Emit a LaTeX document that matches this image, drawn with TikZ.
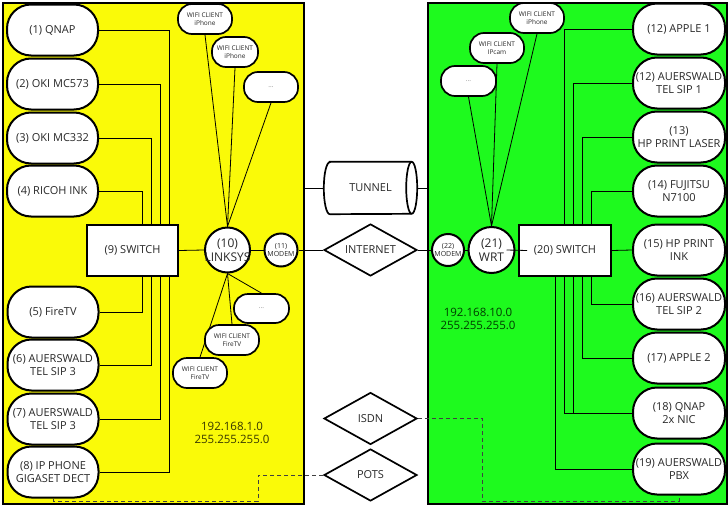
\documentclass[tikz,border=0pt]{standalone}
\usepackage{fontspec}
\setmainfont{Open Sans}
\usetikzlibrary{shapes.geometric,calc}
\definecolor{lanyellow}{RGB}{250,250,8}
\definecolor{langreen}{RGB}{30,250,30}
\definecolor{txt}{RGB}{40,40,40}
\definecolor{ipyel}{RGB}{55,55,0}
\definecolor{ipgrn}{RGB}{0,60,0}
\pgfdeclarelayer{bg}
\pgfdeclarelayer{edges}
\pgfsetlayers{bg,edges,main}
\tikzset{
  dev/.style={draw=black, line width=2pt, fill=white, rounded corners=24pt,
    minimum width=91pt, minimum height=51pt, inner sep=0pt, align=center,
    text=txt, font=\fontsize{11}{13}\selectfont},
  wifi/.style={draw=black, line width=1.7pt, fill=white, rounded corners=14pt,
    minimum width=54pt, minimum height=30pt, inner sep=0pt, align=center,
    text=txt, font=\fontsize{6.5}{8}\selectfont},
  dots/.style={wifi, text=black!50},
  swbox/.style={draw=black, line width=2pt, fill=white, minimum width=91pt,
    minimum height=51pt, inner sep=0pt, text=txt, font=\fontsize{11}{13}\selectfont},
  rcirc/.style={circle, draw=black, line width=2pt, fill=white, inner sep=0pt},
  ctext/.style={inner sep=0pt, align=center, text=txt},
  dia/.style={diamond, draw=black, line width=1.7pt, fill=white, aspect=1.8,
    minimum width=93pt, minimum height=52pt, inner sep=0pt, text=txt,
    font=\fontsize{11}{13}\selectfont},
  panel/.style={draw=black, line width=2pt, inner sep=0pt},
  conn/.style={line width=0.8pt, black},
  dashline/.style={line width=0.8pt, dash pattern=on 4pt off 3pt, black!75},
  iptext/.style={inner sep=0pt, align=center, font=\fontsize{11.5}{13}\selectfont},
}
\begin{document}
\begin{tikzpicture}[x=1pt, y=-1pt]
\useasboundingbox (0,0) rectangle (728,506);
% panels
\begin{pgfonlayer}{bg}
\node[panel, fill=lanyellow, minimum width=301pt, minimum height=501pt] (lan1) at (153,253) {};
\node[panel, fill=langreen, minimum width=299pt, minimum height=501pt] (lan2) at (577.5,253) {};
\end{pgfonlayer}

% left devices
\node[dev] (n1) at (52.5,30) {(1) QNAP};
\node[dev] (n2) at (52.5,84) {(2) OKI MC573};
\node[dev] (n3) at (52.5,138) {(3) OKI MC332};
\node[dev] (n4) at (52.5,191) {(4) RICOH INK};
\node[dev] (n5) at (53,312) {(5) FireTV};
\node[dev] (n6) at (53,365) {(6) AUERSWALD\\TEL SIP 3};
\node[dev] (n7) at (53,419) {(7) AUERSWALD\\TEL SIP 3};
\node[dev] (n8) at (53,472) {(8) IP PHONE\\GIGASET DECT};
\node[swbox] (sw9) at (132.5,250.5) {(9) SWITCH};

\node[rcirc, minimum size=45pt] (link) at (227.5,250) {};
\node[ctext, font=\fontsize{12}{14}\selectfont] (linkt) at (link) {(10)\\LINKSYS};
\node[rcirc, minimum size=33pt] (m11) at (281,250) {};
\node[ctext, font=\fontsize{7}{8.5}\selectfont] (m11t) at (m11) {(11)\\MODEM};

\node[wifi] (lw1) at (205,19) {WIFI CLIENT\\iPhone};
\node[wifi, minimum width=46pt] (lw2) at (235,52) {WIFI CLIENT\\iPhone};
\node[dots] (lw3) at (271,87) {...};
\node[dots, minimum width=55pt, minimum height=29pt] (lw4) at (261.5,308.5) {...};
\node[wifi] (lw5) at (232,340) {WIFI CLIENT\\FireTV};
\node[wifi] (lw6) at (200,373) {WIFI CLIENT\\FireTV};

\node[iptext, text=ipyel] (ip1) at (232,433) {192.168.1.0\\255.255.255.0};

% middle
\node[draw=none, minimum width=93pt, minimum height=52pt, inner sep=0pt] (tunnel) at (370.5,188) {};
\draw[line width=1.7pt, fill=white]
  ([xshift=6pt]tunnel.north west) -- ([xshift=-5.5pt]tunnel.north east)
  arc[start angle=90, end angle=-90, x radius=5.5pt, y radius=26pt]
  -- ([xshift=6pt]tunnel.south west)
  arc[start angle=270, end angle=90, x radius=6pt, y radius=26pt] -- cycle;
\draw[line width=1.7pt] ([xshift=-5.5pt]tunnel.north east)
  arc[start angle=90, end angle=270, x radius=5.5pt, y radius=26pt];
\node[ctext, font=\fontsize{11}{13}\selectfont] (tunnelt) at (tunnel) {TUNNEL};

\node[dia] (inet) at (370.5,250) {INTERNET};
\node[dia] (isdn) at (370.5,418.5) {ISDN};
\node[dia] (pots) at (370.5,475) {POTS};

% right side
\node[rcirc, minimum size=32pt] (m22) at (448,250) {};
\node[ctext, font=\fontsize{7}{8.5}\selectfont] (m22t) at (m22) {(22)\\MODEM};
\node[rcirc, minimum size=46pt] (wrt) at (491.5,250) {};
\node[ctext, font=\fontsize{12}{14}\selectfont] (wrtt) at (wrt) {(21)\\WRT};
\node[swbox, minimum width=92pt] (sw20) at (565,250.5) {(20) SWITCH};

\node[wifi] (rw1) at (537,18) {WIFI CLIENT\\iPhone};
\node[wifi] (rw2) at (497,48) {WIFI CLIENT\\IPcam};
\node[dots, minimum width=55pt] (rw3) at (468.5,81) {...};

\node[iptext, text=ipgrn] (ip2) at (478,319) {192.168.10.0\\255.255.255.0};

\node[dev, minimum width=92pt] (r1) at (679,29) {(12) APPLE 1};
\node[dev, minimum width=92pt] (r2) at (679,83) {(12) AUERSWALD\\TEL SIP 1};
\node[dev, minimum width=92pt] (r3) at (679,137) {(13)\\HP PRINT LASER};
\node[dev, minimum width=92pt] (r4) at (679,191) {(14) FUJITSU\\N7100};
\node[dev, minimum width=92pt] (r5) at (679,250) {(15) HP PRINT\\INK};
\node[dev, minimum width=92pt] (r6) at (679,304) {(16) AUERSWALD\\TEL SIP 2};
\node[dev, minimum width=92pt] (r7) at (679,358) {(17) APPLE 2};
\node[dev, minimum width=92pt] (r8) at (679,413) {(18) QNAP\\2x NIC};
\node[dev, minimum width=92pt] (r9) at (679,469) {(19) AUERSWALD\\PBX};

\coordinate (isdnbend) at (482,501);
\coordinate (potsbend) at (258,501);

\begin{pgfonlayer}{edges}
% left switch
\draw[conn] (n1.east) -| ([xshift=37pt]sw9.north);
\draw[conn] (n2.east) -| ([xshift=28pt]sw9.north);
\draw[conn] (n3.east) -| ([xshift=19pt]sw9.north);
\draw[conn] (n4.east) -| ([xshift=10pt]sw9.north);
\draw[conn] (n5.east) -| ([xshift=10pt]sw9.south);
\draw[conn] (n6.east) -| ([xshift=19pt]sw9.south);
\draw[conn] (n7.east) -| ([xshift=28pt]sw9.south);
\draw[conn] (n8.east) -| ([xshift=37pt]sw9.south);
\draw[conn] (sw9.east) -- (link.west);
\draw[conn] (link.east) -- (m11.west);
\draw[conn] (m11.east) -- (inet.west);
% wifi left
\draw[conn] (lw1.south) -- (link.north);
\draw[conn] (lw2.south) -- (link.north);
\draw[conn] (lw3.south) -- (link.north);
\draw[conn] (link.south) -- (lw4.north);
\draw[conn] (link.south) -- (lw5.north);
\draw[conn] (link.south) -- (lw6.north);
% tunnel
\draw[conn] (lan1.east |- tunnel.west) -- (tunnel.west);
\draw[conn] (tunnel.east) -- (lan2.west |- tunnel.east);
% internet right
\draw[conn] (inet.east) -- (m22.west);
\draw[conn] (m22.east) -- (wrt.west);
% wifi right
\draw[conn] (rw1.south) -- (wrt.north);
\draw[conn] (rw2.south) -- (wrt.north);
\draw[conn] (rw3.south) -- (wrt.north);
% right switch
\draw[conn] (r1.west) -| ([xshift=-1pt]sw20.north);
\draw[conn] (r2.west) -| ([xshift=8pt]sw20.north);
\draw[conn] (r3.west) -| ([xshift=17pt]sw20.north);
\draw[conn] (r4.west) -| ([xshift=26pt]sw20.north);
\draw[conn] (sw20.east) -- (r5.west);
\draw[conn] (r6.west) -| ([xshift=26pt]sw20.south);
\draw[conn] (r7.west) -| ([xshift=17pt]sw20.south);
\draw[conn] (r8.west) -| ([xshift=8pt]sw20.south);
\draw[conn] (r8.west) -| ([xshift=-1pt]sw20.south);
\draw[conn] (r9.west) -| ([xshift=-10pt]sw20.south);
% dashed
\draw[dashline] (isdn.east) -| (isdnbend) -| (r9.south);
\draw[dashline] (pots.west) -| (potsbend) -| (n8.south);
\end{pgfonlayer}
% WRT to switch link drawn over the circle, as in the reference
\draw[conn] ([xshift=15pt]wrt.center) -- ([xshift=-38pt]sw20.center);
\end{tikzpicture}
\end{document}
